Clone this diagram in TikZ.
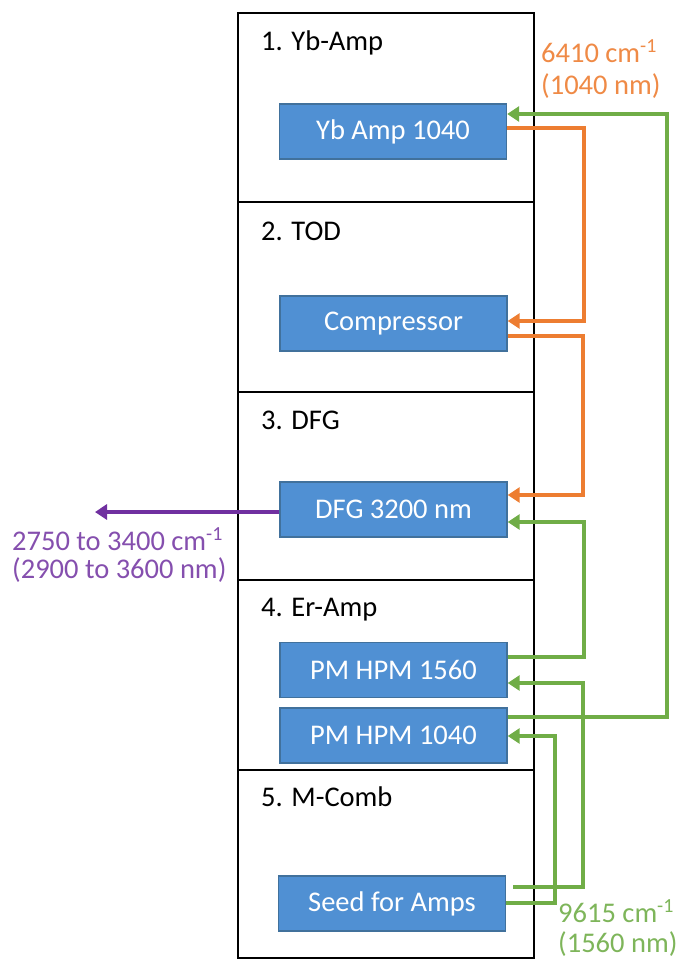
\documentclass[tikz,border=0pt]{standalone}
\usepackage{fontspec}
\setmainfont{Carlito}
\usetikzlibrary{arrows.meta}
\definecolor{oOrange}{HTML}{ED7D31}
\definecolor{oGreen}{HTML}{70AD47}
\definecolor{oPurple}{HTML}{7030A0}
\definecolor{oBlue}{HTML}{5090D3}
\definecolor{oBlueDark}{HTML}{41719C}
\begin{document}
\begin{tikzpicture}[x=1pt,y=-1pt,
  font=\fontsize{28.5}{32}\selectfont,
  stage/.style={draw=black,line width=2pt},
  unit/.style={draw=oBlueDark,line width=1.4pt,fill=oBlue,text=white,
    minimum width=227pt,minimum height=55pt,inner sep=0pt},
  title/.style={anchor=base west,inner sep=0pt,text=black},
  lbl/.style={anchor=base west,inner sep=0pt},
  tip/.style={-{Triangle[length=12pt,width=15pt]}},
  ob/.style={draw=oOrange,line width=3.5pt},
  gb/.style={draw=oGreen,line width=3.2pt},
  pb/.style={draw=oPurple,line width=3.2pt}]
\useasboundingbox (0,0) rectangle (683,959);
% stage frames
\draw[stage] (238,13) rectangle (534,202);
\draw[stage] (238,202) rectangle (534,392);
\draw[stage] (238,392) rectangle (534,580);
\draw[stage] (238,580) rectangle (534,770);
\draw[stage] (238,770) rectangle (534,958);
% titles
\node[title] (t1) at (261,50) {1. Yb-Amp};
\node[title] (t2) at (261,240) {2. TOD};
\node[title] (t3) at (261,429) {3. DFG};
\node[title] (t4) at (261,616) {4. Er-Amp};
\node[title] (t5) at (261,806) {5. M-Comb};
% units
\node[unit] (yb) at (393,131.5) {Yb Amp 1040};
\node[unit] (comp) at (393.5,323.5) {Compressor};
\node[unit] (dfg) at (393.5,509.5) {DFG 3200 nm};
\node[unit] (pmA) at (393.5,670) {PM HPM 1560};
\node[unit] (pmB) at (393.5,735.5) {PM HPM 1040};
\node[unit] (seed) at (392,903.5) {Seed for Amps};
% orange connectors
\draw[ob,tip] (yb.east |- 0,128) -- (584,128) -- (584,321) -- (comp.east |- 0,321);
\draw[ob,tip] (comp.east |- 0,336) -- (583,336) -- (583,495) -- (dfg.east |- 0,495);
% green connectors
\draw[gb,tip] (pmB.east |- 0,717) -- (667,717) -- (667,114) -- (yb.east |- 0,114);
\draw[gb,tip] (pmA.east |- 0,657) -- (584,657) -- (584,522) -- (dfg.east |- 0,522);
\coordinate (s1) at (513,887);
\draw[gb,tip] (s1) -- (583,887) -- (583,683) -- (pmA.east |- 0,683);
\draw[gb,tip] (seed.east |- 0,903) -- (555,903) -- (555,736) -- (pmB.east |- 0,736);
% purple output
\coordinate (out) at (95,512);
\draw[pb,tip] (dfg.west |- 0,512) -- (out);
% labels
\node[lbl,text=oOrange!90!white] (l1) at (541,62) {6410 cm\textsuperscript{-1}};
\node[lbl,text=oOrange!90!white] (l2) at (541,94) {(1040 nm)};
\node[lbl,text=oGreen!90!white] (l3) at (558,922) {9615 cm\textsuperscript{-1}};
\node[lbl,text=oGreen!90!white] (l4) at (558,952) {(1560 nm)};
\node[lbl,text=oPurple!85!white] (l5) at (12,550) {2750 to 3400 cm\textsuperscript{-1}};
\node[lbl,text=oPurple!85!white] (l6) at (12,578) {(2900 to 3600 nm)};
\end{tikzpicture}
\end{document}
